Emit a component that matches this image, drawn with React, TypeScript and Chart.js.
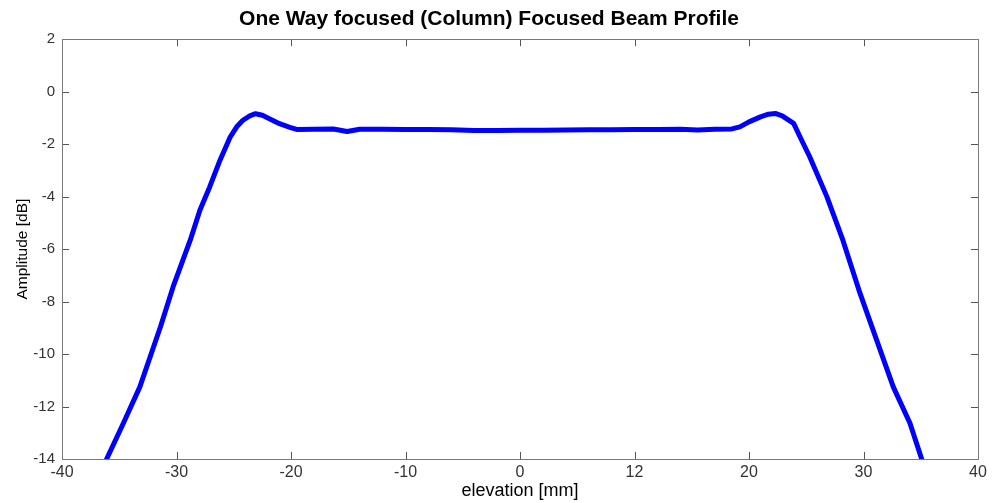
import React, { useEffect, useRef } from "react";
import { Chart, registerables } from "chart.js";

Chart.register(...registerables);

const elevationMm = [
  -36.6, -36.1, -34.6, -33.2, -31.4, -30.3, -28.8, -27.95, -27.1, -26.2, -25.3,
  -24.74, -24.2, -23.6, -23.1, -22.5, -21.8, -21, -20.1, -19.5, -18, -16.3,
  -15.1, -14, -12, -10, -8, -6, -4, -2, 0, 2, 4, 6, 8, 10, 12, 14, 15.5, 17,
  18.5, 19.2, 20, 21, 21.7, 22.3, 22.9, 23.9, 24.45, 25.3, 26.8, 28.2, 29.7,
  31.15, 32.6, 34.06, 35.08, 35.5,
];
const amplitudeDb = [
  -14.6, -14, -12.6, -11.25, -8.96, -7.44, -5.66, -4.51, -3.63, -2.61, -1.72,
  -1.34, -1.09, -0.92, -0.84, -0.9, -1.05, -1.22, -1.36, -1.44, -1.43, -1.42,
  -1.52, -1.43, -1.43, -1.44, -1.44, -1.45, -1.48, -1.48, -1.47, -1.47, -1.46,
  -1.45, -1.45, -1.44, -1.44, -1.43, -1.46, -1.43, -1.42, -1.34, -1.15, -0.96,
  -0.86, -0.83, -0.92, -1.21, -1.72, -2.48, -4.0, -5.66, -7.69, -9.47, -11.25,
  -12.64, -14.0, -14.6,
];
const xTickValues = [-40, -30, -20, -10, 0, 10, 20, 30, 40];
const xTickLabels = ["-40", "-30", "-20", "-10", "0", "12", "20", "30", "40"];
const yTickValues = [-14, -12, -10, -8, -6, -4, -2, 0, 2];

const TITLE = "One Way focused (Column) Focused Beam Profile";
const X_TITLE = "elevation [mm]";
const Y_TITLE = "Amplitude [dB]";

const FONT = "Arial, 'Liberation Sans', sans-serif";

const framePlugin = {
  id: "matlabFrame",
  afterDatasetsDraw(chart: any) {
    const { ctx, chartArea: a, scales } = chart;
    const L = 7;
    ctx.save();
    ctx.strokeStyle = "#555555";
    ctx.lineWidth = 1;
    ctx.beginPath();
    xTickValues.forEach((v) => {
      const px = Math.round(scales.x.getPixelForValue(v)) + 0.5;
      ctx.moveTo(px, a.bottom);
      ctx.lineTo(px, a.bottom - L);
      ctx.moveTo(px, a.top);
      ctx.lineTo(px, a.top + L);
    });
    yTickValues.forEach((v) => {
      const py = Math.round(scales.y.getPixelForValue(v)) + 0.5;
      ctx.moveTo(a.left, py);
      ctx.lineTo(a.left + L, py);
      ctx.moveTo(a.right, py);
      ctx.lineTo(a.right - L, py);
    });
    ctx.stroke();
    ctx.strokeStyle = "#7a7a7a";
    ctx.strokeRect(
      Math.round(a.left) + 0.5,
      Math.round(a.top) + 0.5,
      Math.round(a.right - a.left),
      Math.round(a.bottom - a.top)
    );
    ctx.restore();
  },
};

export default function App() {
  const ref = useRef<HTMLCanvasElement | null>(null);

  useEffect(() => {
    if (!ref.current) return;
    const data = elevationMm.map((x, i) => ({ x, y: amplitudeDb[i] }));
    const chart = new Chart(ref.current, {
      type: "scatter",
      data: {
        datasets: [
          {
            data,
            showLine: true,
            borderColor: "#0000ff",
            backgroundColor: "#0000ff",
            borderWidth: 5,
            pointRadius: 0,
            tension: 0,
            borderJoinStyle: "round",
            clip: 0,
          } as any,
        ],
      },
      options: {
        animation: false,
        responsive: false,
        layout: { padding: { left: 0, right: 15, top: 0, bottom: 0 } },
        plugins: {
          legend: { display: false },
          tooltip: { enabled: false },
          title: {
            display: true,
            text: TITLE,
            color: "#000000",
            font: { family: FONT, size: 21, weight: "bold" },
            padding: { top: 7, bottom: 7 },
          },
        },
        scales: {
          x: {
            type: "linear",
            min: -40,
            max: 40,
            afterBuildTicks: (s: any) => {
              s.ticks = xTickValues.map((v) => ({ value: v }));
            },
            afterFit: (s: any) => {
              s.height = 44;
            },
            grid: { display: false, drawTicks: false },
            border: { display: false },
            ticks: {
              autoSkip: false,
              maxRotation: 0,
              padding: 4,
              color: "#333333",
              font: { family: FONT, size: 16 },
              callback: (v: any) => {
                const i = xTickValues.indexOf(Number(v));
                return i >= 0 ? xTickLabels[i] : "";
              },
            },
            title: {
              display: true,
              text: X_TITLE,
              color: "#000000",
              font: { family: FONT, size: 18 },
              padding: { top: 0, bottom: 1 },
            },
          },
          y: {
            type: "linear",
            min: -14,
            max: 2,
            afterBuildTicks: (s: any) => {
              s.ticks = yTickValues.map((v) => ({ value: v }));
            },
            afterFit: (s: any) => {
              s.width = 62;
            },
            grid: { display: false, drawTicks: false },
            border: { display: false },
            ticks: {
              autoSkip: false,
              padding: 7,
              color: "#333333",
              font: { family: FONT, size: 15 },
            },
            title: {
              display: true,
              text: Y_TITLE,
              color: "#000000",
              font: { family: FONT, size: 15.5 },
              padding: { top: 13, bottom: 0 },
            },
          },
        },
      },
      plugins: [framePlugin],
    });
    return () => chart.destroy();
  }, []);

  return (
    <div style={{ position: "absolute", left: 0, top: 0, width: 993, height: 503, background: "#ffffff" }}>
      <canvas ref={ref} width={993} height={503} style={{ display: "block" }} />
    </div>
  );
}
